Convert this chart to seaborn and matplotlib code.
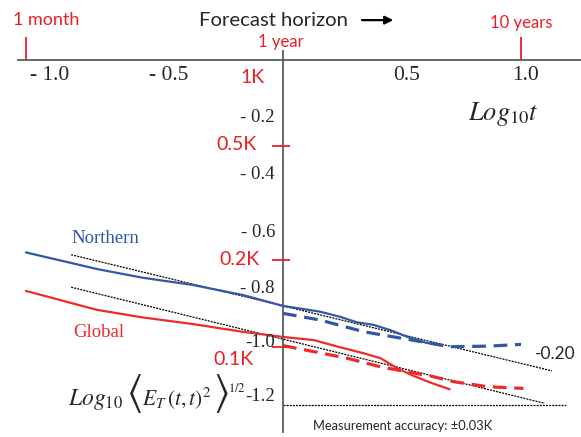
import numpy as np
import pandas as pd
import matplotlib
matplotlib.use("Agg")
import matplotlib.pyplot as plt
import seaborn as sns

# curves (log10 t, log10 rms error)
north_x = [-1.08, -0.78, -0.59, -0.38, -0.17, 0.0, 0.155, 0.24, 0.31, 0.38, 0.45, 0.52, 0.60, 0.66]
north_y = [-0.671, -0.729, -0.759, -0.784, -0.819, -0.857, -0.877, -0.895, -0.914, -0.923, -0.941, -0.964, -0.985, -0.993]
global_x = [-1.08, -0.78, -0.59, -0.38, -0.17, 0.0, 0.13, 0.24, 0.34, 0.41, 0.48, 0.55, 0.62, 0.70]
global_y = [-0.805, -0.871, -0.897, -0.920, -0.947, -0.965, -0.976, -1.001, -1.022, -1.039, -1.074, -1.101, -1.124, -1.147]

# forecast (dashed)
north_fc_x = [0.0, 0.155, 0.34, 0.62, 0.70, 0.86, 1.00]
north_fc_y = [-0.883, -0.906, -0.947, -0.987, -0.999, -0.997, -0.991]
global_fc_x = [0.0, 0.27, 0.41, 0.62, 0.72, 0.86, 1.01]
global_fc_y = [-0.995, -1.039, -1.069, -1.101, -1.121, -1.138, -1.144]

# slope -0.20 reference lines
fit_north_x = [-0.89, 1.13]
fit_north_y = [-0.679, -1.083]
fit_global_x = [-0.89, 1.10]
fit_global_y = [-0.792, -1.196]
accuracy_level = -1.2

kelvin = [1, 0.5, 0.2, 0.1]
kelvin_labels = ["1K", "0.5K", "0.2K", "0.1K"]
x_ticks = [-1.0, -0.5, 0.5, 1.0]
x_tick_labels = ["- 1.0", "- 0.5", "0.5", "1.0"]
y_ticks = [-0.2, -0.4, -0.6, -0.8, -1.0, -1.2]
y_tick_labels = ["- 0.2", "- 0.4", "- 0.6", "- 0.8", "-1.0", "-1.2"]

BLUE = "#3157a7"
RED = "#ee2a2a"
TRED = "#ec1c24"

sns.set_style("white")
plt.rcParams["mathtext.fontset"] = "stix"
sans = ["Lato", "DejaVu Sans"]
serif = ["Liberation Serif", "DejaVu Serif"]

fig = plt.figure(figsize=(5.81, 4.37), dpi=100)
ax = fig.add_axes([0, 0, 1, 1])
ax.set_xlim(-1.189, 1.252)
ax.set_ylim(-1.313, 0.207)

# axes through the origin
for s in ["top", "right"]:
    ax.spines[s].set_visible(False)
ax.spines["left"].set_position(("data", 0))
ax.spines["bottom"].set_position(("data", 0))
ax.spines["left"].set_bounds(-1.296, 0.03)
ax.spines["bottom"].set_bounds(-1.113, 1.25)
for s in ["left", "bottom"]:
    ax.spines[s].set_color("#5a5a5a")
    ax.spines[s].set_linewidth(1.3)
ax.set_xticks(np.round(np.arange(-1.1, 1.21, 0.1), 2))
ax.set_yticks(np.round(np.arange(-1.25, 0.01, 0.05), 2))
ax.tick_params(axis="x", direction="inout", length=4, width=0.8, color="#666666", labelbottom=False)
ax.tick_params(axis="y", direction="in", length=3, width=0.8, color="#666666", labelleft=False)

# reference lines
dots = (0, (1.6, 0.9))
sns.lineplot(x=fit_north_x, y=fit_north_y, ax=ax, color="black", lw=0.9, linestyle=dots)
sns.lineplot(x=fit_global_x, y=fit_global_y, ax=ax, color="black", lw=0.9, linestyle=dots)
ax.hlines(accuracy_level, 0, 1.19, color="black", lw=0.9, linestyles=[dots])

# data curves
sns.lineplot(x=north_x, y=north_y, ax=ax, color=BLUE, lw=1.6, sort=False, estimator=None)
sns.lineplot(x=global_x, y=global_y, ax=ax, color=RED, lw=1.6, sort=False, estimator=None)
sns.lineplot(x=north_fc_x, y=north_fc_y, ax=ax, color=BLUE, lw=2.3, sort=False,
             estimator=None, linestyle=(0, (4.3, 2.4)))
sns.lineplot(x=global_fc_x, y=global_fc_y, ax=ax, color=RED, lw=2.3, sort=False,
             estimator=None, linestyle=(0, (4.3, 2.4)))

# tick labels
for xv, lab in zip(x_ticks, x_tick_labels):
    ax.text(xv + 0.02, -0.057, lab, ha="center", va="center", fontsize=15.5, family=serif)
y_shift = [0, 0, 0, 0.005, 0.014, 0.027]
for yv, lab, dy in zip(y_ticks, y_tick_labels, y_shift):
    ax.text(-0.034, yv + dy, lab, ha="right", va="center", fontsize=13.5, family=serif)

# kelvin marks on the vertical axis
k_pos = [(-0.126, -0.061), (-0.195, -0.297), (-0.181, -0.697), (-0.210, -1.045)]
for k, lab, (tx, ty) in zip(kelvin, kelvin_labels, k_pos):
    yk = np.log10(k)
    if k != 1:
        ax.hlines(yk, -0.046, 0.029, color=TRED, lw=1.3)
    ax.text(tx, ty, lab, ha="center", va="center", fontsize=14, color=TRED, family=sans)

# horizon marks on the top axis
for xv in [np.log10(1 / 12), np.log10(10)]:
    ax.vlines(xv, 0, 0.078, color=TRED, lw=1.3)
ax.text(-0.995, 0.137, "1 month", ha="center", va="center", fontsize=13, color=TRED, family=sans)
ax.text(-0.008, 0.061, "1 year", ha="center", va="center", fontsize=12, color=TRED, family=sans)
ax.text(1.0, 0.127, "10 years", ha="center", va="center", fontsize=12, color=TRED, family=sans)

ax.text(-0.353, 0.134, "Forecast horizon", ha="left", va="center", fontsize=14.6, family=sans)
ax.annotate("", xy=(0.475, 0.137), xytext=(0.32, 0.137),
            arrowprops=dict(arrowstyle="-|>", color="black", lw=1.6, mutation_scale=12))

ax.text(0.777, -0.21, r"$Log_{10}t$", ha="left", va="baseline", fontsize=19)

# vertical axis label, built in pieces so the angle brackets can be tall
ax.text(-0.903, -1.202, r"$Log_{10}$", ha="left", va="baseline", fontsize=17)
ax.text(-0.628, -1.161, r"$\langle$", ha="center", va="center", fontsize=30)
ax.text(-0.594, -1.202, r"$E_T\,(t,t)^2$", ha="left", va="baseline", fontsize=15.5)
ax.text(-0.262, -1.161, r"$\rangle$", ha="center", va="center", fontsize=30)
ax.text(-0.230, -1.146, r"$1/2$", ha="left", va="center", fontsize=9)

ax.text(-0.748, -0.624, "Northern", ha="center", va="center", fontsize=13.5, color=BLUE, family=serif)
ax.text(-0.773, -0.950, "Global", ha="center", va="center", fontsize=13.5, color=RED, family=serif)
ax.text(1.143, -1.024, "-0.20", ha="center", va="center", fontsize=12.5, family=sans)
ax.text(0.502, -1.275, "Measurement accuracy: \u00b10.03K", ha="center", va="center",
        fontsize=9.3, family=sans)

fig.savefig("out.png", dpi=100)
